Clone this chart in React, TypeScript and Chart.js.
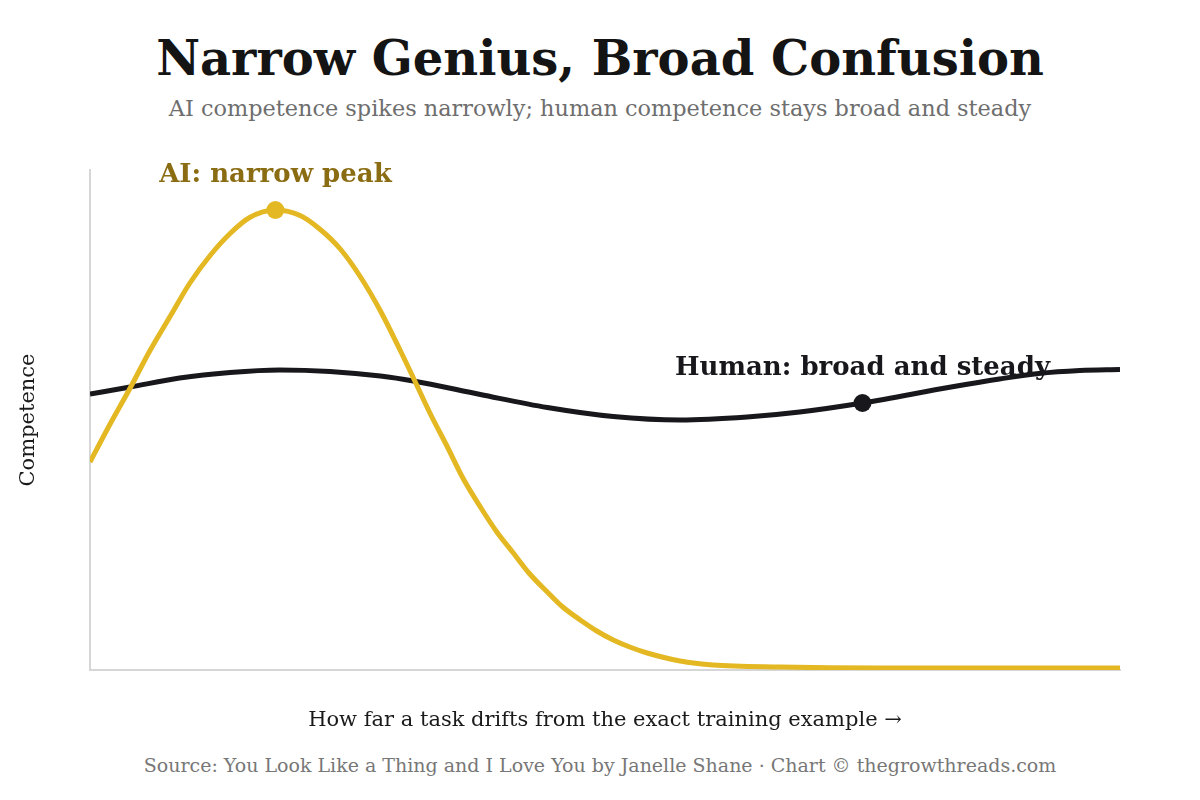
import { useEffect, useRef } from 'react';
import { Chart, registerables } from 'chart.js';

Chart.register(...registerables);

const serif = '"DejaVu Serif", Georgia, serif';

// x = how far a task drifts from the training example (0..10), y = competence (0..1)
const aiDrift = [0, 0.19, 0.39, 0.58, 0.78, 0.97, 1.17, 1.36, 1.55, 1.8, 2.04, 2.23, 2.43, 2.62, 2.82, 3.01, 3.14, 3.3, 3.47, 3.62, 3.79, 3.95, 4.11, 4.27, 4.44, 4.59, 4.76, 4.92, 5.08, 5.24, 5.41, 5.73, 6.05, 6.7, 7.67, 8.83, 10];
const aiCompetence = [0.416, 0.49, 0.564, 0.638, 0.708, 0.774, 0.83, 0.873, 0.905, 0.92, 0.909, 0.882, 0.842, 0.788, 0.718, 0.64, 0.584, 0.514, 0.446, 0.384, 0.326, 0.276, 0.234, 0.192, 0.156, 0.126, 0.1, 0.078, 0.06, 0.046, 0.034, 0.018, 0.01, 0.006, 0.004, 0.004, 0.004];
const humanDrift = [0, 0.39, 0.87, 1.36, 1.84, 2.33, 2.82, 3.14, 3.79, 4.44, 5.08, 5.73, 6.38, 6.89, 7.5, 8.36, 8.83, 9.21, 9.61, 10];
const humanCompetence = [0.552, 0.566, 0.584, 0.595, 0.6, 0.597, 0.588, 0.578, 0.551, 0.525, 0.507, 0.5, 0.506, 0.516, 0.534, 0.566, 0.582, 0.593, 0.599, 0.601];

const aiLabel = 'AI: narrow peak';
const humanLabel = 'Human: broad and steady';
const aiMarkIndex = 9;
const humanMarkIndex = 14;

const title = 'Narrow Genius, Broad Confusion';
const subtitle = 'AI competence spikes narrowly; human competence stays broad and steady';
const xTitle = 'How far a task drifts from the exact training example →';
const yTitle = 'Competence';
const source = 'Source: You Look Like a Thing and I Love You by Janelle Shane · Chart © thegrowthreads.com';

// draws the callout text above each marked point
const pointLabels = {
    id: 'pointLabels',
    afterDatasetsDraw(chart: any) {
        const { ctx } = chart;
        chart.data.datasets.forEach((ds: any, i: number) => {
            const pt = chart.getDatasetMeta(i).data[ds.markIndex];
            if (!pt) return;
            ctx.save();
            ctx.font = `bold 26px ${serif}`;
            ctx.fillStyle = ds.labelColor;
            ctx.textAlign = 'center';
            ctx.textBaseline = 'middle';
            ctx.fillText(ds.markLabel, pt.x, pt.y - 35);
            ctx.restore();
        });
    }
};

export default function App() {
    const chartRef = useRef<HTMLCanvasElement>(null);

    useEffect(() => {
        if (!chartRef.current) return;
        const ctx = chartRef.current.getContext('2d');
        if (!ctx) return;

        const chart = new Chart(ctx, {
            type: 'line',
            data: {
                datasets: [
                    {
                        label: 'AI',
                        data: aiDrift.map((x, i) => ({ x, y: aiCompetence[i] })),
                        borderColor: '#e3b823',
                        backgroundColor: '#e3b823',
                        borderWidth: 5,
                        cubicInterpolationMode: 'monotone',
                        pointRadius: (c: any) => (c.dataIndex === aiMarkIndex ? 9 : 0),
                        pointHoverRadius: (c: any) => (c.dataIndex === aiMarkIndex ? 9 : 0),
                        pointBorderWidth: 0,
                        markIndex: aiMarkIndex,
                        markLabel: aiLabel,
                        labelColor: '#8a6c12',
                    } as any,
                    {
                        label: 'Human',
                        data: humanDrift.map((x, i) => ({ x, y: humanCompetence[i] })),
                        borderColor: '#17171c',
                        backgroundColor: '#17171c',
                        borderWidth: 5,
                        cubicInterpolationMode: 'monotone',
                        pointRadius: (c: any) => (c.dataIndex === humanMarkIndex ? 9 : 0),
                        pointHoverRadius: (c: any) => (c.dataIndex === humanMarkIndex ? 9 : 0),
                        pointBorderWidth: 0,
                        markIndex: humanMarkIndex,
                        markLabel: humanLabel,
                        labelColor: '#17171c',
                    } as any
                ]
            },
            options: {
                animation: false,
                responsive: true,
                maintainAspectRatio: false,
                layout: { padding: { top: 30, right: 80, bottom: 0, left: 0 } },
                plugins: {
                    legend: { display: false },
                    tooltip: { enabled: false },
                    title: { display: false }
                },
                scales: {
                    x: {
                        type: 'linear',
                        min: 0,
                        max: 10,
                        grid: { display: false },
                        ticks: { display: false },
                        border: { display: true, color: '#d6d6d6', width: 2 },
                        title: {
                            display: true,
                            text: xTitle,
                            color: '#1a1a1a',
                            font: { family: serif, size: 21 },
                            padding: { top: 0, bottom: 7 }
                        },
                        afterFit: (s: any) => { s.height = 70; }
                    },
                    y: {
                        min: 0,
                        max: 1,
                        grid: { display: false },
                        ticks: { display: false },
                        border: { display: true, color: '#d6d6d6', width: 2 },
                        title: {
                            display: true,
                            text: yTitle,
                            color: '#1a1a1a',
                            font: { family: serif, size: 21 },
                            padding: { top: 16, bottom: 0 }
                        },
                        afterFit: (s: any) => { s.width = 90; }
                    }
                }
            },
            plugins: [pointLabels]
        });

        return () => {
            chart.destroy();
        };
    }, []);

    return (
        <div style={{ position: 'fixed', left: 0, top: 0, width: 1200, height: 800, background: '#fff', fontFamily: serif }}>
            <div style={{ position: 'absolute', top: 30, left: 0, width: 1200, textAlign: 'center', fontSize: 48, lineHeight: '56px', fontWeight: 'bold', color: '#141414' }}>
                {title}
            </div>
            <div style={{ position: 'absolute', top: 94, left: 0, width: 1200, textAlign: 'center', fontSize: 22.4, lineHeight: '28px', color: '#6e6e6e' }}>
                {subtitle}
            </div>
            <div style={{ position: 'absolute', top: 140, left: 0, width: 1200, height: 600 }}>
                <canvas ref={chartRef} />
            </div>
            <div style={{ position: 'absolute', top: 753, left: 0, width: 1200, textAlign: 'center', fontSize: 19, lineHeight: '24px', color: '#777' }}>
                {source}
            </div>
        </div>
    );
}
